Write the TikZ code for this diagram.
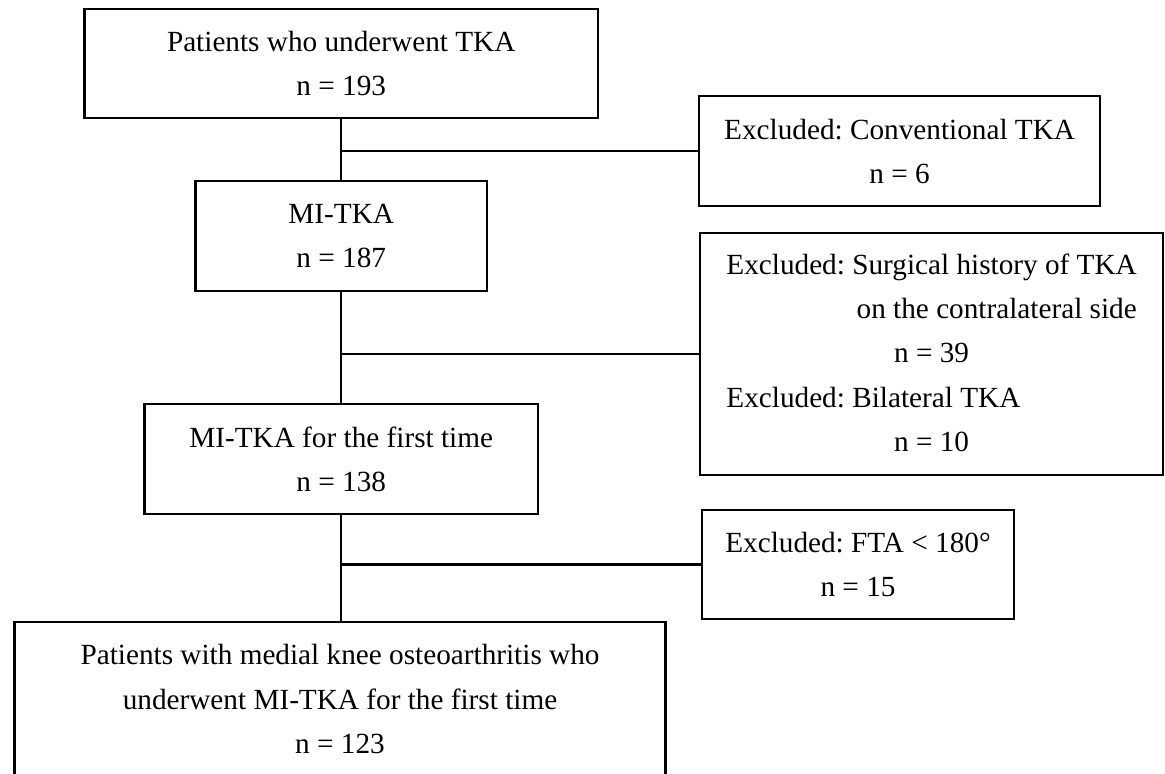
\documentclass[tikz,border=0pt]{standalone}
\usepackage{fontspec}
\setmainfont{Liberation Serif}
\frenchspacing
\usepackage{tikz}
\usetikzlibrary{positioning,calc}

\begin{document}
\begin{tikzpicture}[
    stage/.style={draw=black, line width=1.7pt, rectangle, align=center, inner sep=0pt,
        font=\fontsize{20.8}{31.5}\selectfont},
    link/.style={draw=black, line width=1.7pt}
]

\useasboundingbox (0,0) rectangle (29.125,-19.35);

% Main stages
\node[stage, minimum width=12.83cm, minimum height=2.73cm] (top) at (8.53,-1.59) {Patients who underwent TKA\\ n = 193};
\node[stage, minimum width=7.28cm, minimum height=2.75cm] (mi) at (8.53,-5.90) {MI-TKA\\ n = 187};
\node[stage, minimum width=9.83cm, minimum height=2.75cm] (first) at (8.53,-11.475) {MI-TKA for the first time\\ n = 138};
\node[stage, minimum width=16.28cm, minimum height=3.85cm] (final) at (8.50,-17.475) {Patients with medial knee osteoarthritis who\\ underwent MI-TKA for the first time\\ n = 123};

% Exclusions
\node[stage, minimum width=10.03cm, minimum height=2.75cm] (exconv) at (22.49,-3.78) {Excluded: Conventional TKA\\ n = 6};
\node[stage, minimum width=11.58cm, minimum height=6.05cm] (exhist) at (23.29,-8.85) {\begin{tabular}{@{}c@{}}Excluded: Surgical history of TKA\\ \hfill on the contralateral side\\ n = 39\\ Excluded: Bilateral TKA\hfill\mbox{}\\ n = 10\end{tabular}};
\node[stage, minimum width=7.8cm, minimum height=2.73cm] (exfta) at (21.45,-14.11) {Excluded: FTA < 180°\\ n = 15};

% Links
\draw[link] (top.south) -- (top.south |- mi.north);
\draw[link] (mi.south) -- (mi.south |- first.north);
\draw[link] (first.south) -- (first.south |- final.north);
\draw[link] (exconv.west) -- (exconv.west -| top.south);
\draw[link] (exhist.west) -- (exhist.west -| mi.south);
\draw[link] (exfta.west) -- (exfta.west -| first.south);

\end{tikzpicture}
\end{document}
